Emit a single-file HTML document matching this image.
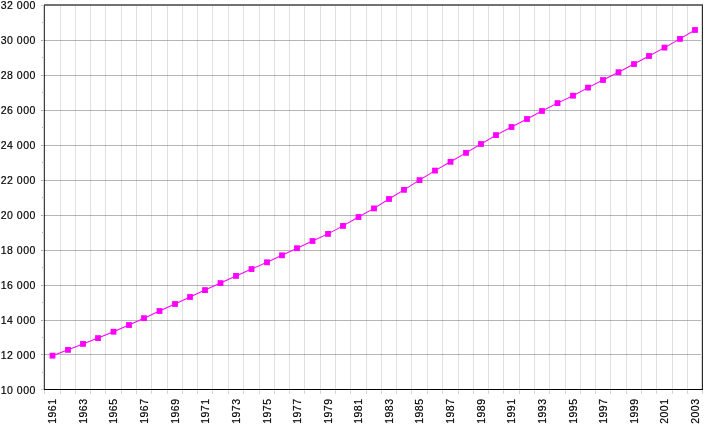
<!DOCTYPE html><html><head><meta charset="utf-8"><style>html,body{margin:0;padding:0;background:#fff;width:725px;height:426px;overflow:hidden}</style></head><body><svg width="725" height="426" viewBox="0 0 725 426" style="display:block;will-change:transform"><rect width="725" height="426" fill="#fff"/><g shape-rendering="crispEdges"><path fill="#e0e0e0" d="M60 6h1v383h-1zM75 6h1v383h-1zM90 6h1v383h-1zM105 6h1v383h-1zM121 6h1v383h-1zM136 6h1v383h-1zM151 6h1v383h-1zM167 6h1v383h-1zM182 6h1v383h-1zM197 6h1v383h-1zM212 6h1v383h-1zM228 6h1v383h-1zM243 6h1v383h-1zM259 6h1v383h-1zM274 6h1v383h-1zM289 6h1v383h-1zM304 6h1v383h-1zM320 6h1v383h-1zM335 6h1v383h-1zM350 6h1v383h-1zM366 6h1v383h-1zM381 6h1v383h-1zM396 6h1v383h-1zM411 6h1v383h-1zM427 6h1v383h-1zM442 6h1v383h-1zM458 6h1v383h-1zM473 6h1v383h-1zM488 6h1v383h-1zM503 6h1v383h-1zM519 6h1v383h-1zM534 6h1v383h-1zM549 6h1v383h-1zM565 6h1v383h-1zM580 6h1v383h-1zM595 6h1v383h-1zM610 6h1v383h-1zM626 6h1v383h-1zM641 6h1v383h-1zM656 6h1v383h-1zM672 6h1v383h-1zM687 6h1v383h-1z"/><path fill="#b6b6b6" d="M45 354h657v1h-657zM45 320h657v1h-657zM45 285h657v1h-657zM45 250h657v1h-657zM45 215h657v1h-657zM45 180h657v1h-657zM45 145h657v1h-657zM45 110h657v1h-657zM45 75h657v1h-657zM45 40h657v1h-657z"/><path fill="#a8a8a8" d="M60 354h1v1h-1zM75 354h1v1h-1zM90 354h1v1h-1zM105 354h1v1h-1zM121 354h1v1h-1zM136 354h1v1h-1zM151 354h1v1h-1zM167 354h1v1h-1zM182 354h1v1h-1zM197 354h1v1h-1zM212 354h1v1h-1zM228 354h1v1h-1zM243 354h1v1h-1zM259 354h1v1h-1zM274 354h1v1h-1zM289 354h1v1h-1zM304 354h1v1h-1zM320 354h1v1h-1zM335 354h1v1h-1zM350 354h1v1h-1zM366 354h1v1h-1zM381 354h1v1h-1zM396 354h1v1h-1zM411 354h1v1h-1zM427 354h1v1h-1zM442 354h1v1h-1zM458 354h1v1h-1zM473 354h1v1h-1zM488 354h1v1h-1zM503 354h1v1h-1zM519 354h1v1h-1zM534 354h1v1h-1zM549 354h1v1h-1zM565 354h1v1h-1zM580 354h1v1h-1zM595 354h1v1h-1zM610 354h1v1h-1zM626 354h1v1h-1zM641 354h1v1h-1zM656 354h1v1h-1zM672 354h1v1h-1zM687 354h1v1h-1zM60 320h1v1h-1zM75 320h1v1h-1zM90 320h1v1h-1zM105 320h1v1h-1zM121 320h1v1h-1zM136 320h1v1h-1zM151 320h1v1h-1zM167 320h1v1h-1zM182 320h1v1h-1zM197 320h1v1h-1zM212 320h1v1h-1zM228 320h1v1h-1zM243 320h1v1h-1zM259 320h1v1h-1zM274 320h1v1h-1zM289 320h1v1h-1zM304 320h1v1h-1zM320 320h1v1h-1zM335 320h1v1h-1zM350 320h1v1h-1zM366 320h1v1h-1zM381 320h1v1h-1zM396 320h1v1h-1zM411 320h1v1h-1zM427 320h1v1h-1zM442 320h1v1h-1zM458 320h1v1h-1zM473 320h1v1h-1zM488 320h1v1h-1zM503 320h1v1h-1zM519 320h1v1h-1zM534 320h1v1h-1zM549 320h1v1h-1zM565 320h1v1h-1zM580 320h1v1h-1zM595 320h1v1h-1zM610 320h1v1h-1zM626 320h1v1h-1zM641 320h1v1h-1zM656 320h1v1h-1zM672 320h1v1h-1zM687 320h1v1h-1zM60 285h1v1h-1zM75 285h1v1h-1zM90 285h1v1h-1zM105 285h1v1h-1zM121 285h1v1h-1zM136 285h1v1h-1zM151 285h1v1h-1zM167 285h1v1h-1zM182 285h1v1h-1zM197 285h1v1h-1zM212 285h1v1h-1zM228 285h1v1h-1zM243 285h1v1h-1zM259 285h1v1h-1zM274 285h1v1h-1zM289 285h1v1h-1zM304 285h1v1h-1zM320 285h1v1h-1zM335 285h1v1h-1zM350 285h1v1h-1zM366 285h1v1h-1zM381 285h1v1h-1zM396 285h1v1h-1zM411 285h1v1h-1zM427 285h1v1h-1zM442 285h1v1h-1zM458 285h1v1h-1zM473 285h1v1h-1zM488 285h1v1h-1zM503 285h1v1h-1zM519 285h1v1h-1zM534 285h1v1h-1zM549 285h1v1h-1zM565 285h1v1h-1zM580 285h1v1h-1zM595 285h1v1h-1zM610 285h1v1h-1zM626 285h1v1h-1zM641 285h1v1h-1zM656 285h1v1h-1zM672 285h1v1h-1zM687 285h1v1h-1zM60 250h1v1h-1zM75 250h1v1h-1zM90 250h1v1h-1zM105 250h1v1h-1zM121 250h1v1h-1zM136 250h1v1h-1zM151 250h1v1h-1zM167 250h1v1h-1zM182 250h1v1h-1zM197 250h1v1h-1zM212 250h1v1h-1zM228 250h1v1h-1zM243 250h1v1h-1zM259 250h1v1h-1zM274 250h1v1h-1zM289 250h1v1h-1zM304 250h1v1h-1zM320 250h1v1h-1zM335 250h1v1h-1zM350 250h1v1h-1zM366 250h1v1h-1zM381 250h1v1h-1zM396 250h1v1h-1zM411 250h1v1h-1zM427 250h1v1h-1zM442 250h1v1h-1zM458 250h1v1h-1zM473 250h1v1h-1zM488 250h1v1h-1zM503 250h1v1h-1zM519 250h1v1h-1zM534 250h1v1h-1zM549 250h1v1h-1zM565 250h1v1h-1zM580 250h1v1h-1zM595 250h1v1h-1zM610 250h1v1h-1zM626 250h1v1h-1zM641 250h1v1h-1zM656 250h1v1h-1zM672 250h1v1h-1zM687 250h1v1h-1zM60 215h1v1h-1zM75 215h1v1h-1zM90 215h1v1h-1zM105 215h1v1h-1zM121 215h1v1h-1zM136 215h1v1h-1zM151 215h1v1h-1zM167 215h1v1h-1zM182 215h1v1h-1zM197 215h1v1h-1zM212 215h1v1h-1zM228 215h1v1h-1zM243 215h1v1h-1zM259 215h1v1h-1zM274 215h1v1h-1zM289 215h1v1h-1zM304 215h1v1h-1zM320 215h1v1h-1zM335 215h1v1h-1zM350 215h1v1h-1zM366 215h1v1h-1zM381 215h1v1h-1zM396 215h1v1h-1zM411 215h1v1h-1zM427 215h1v1h-1zM442 215h1v1h-1zM458 215h1v1h-1zM473 215h1v1h-1zM488 215h1v1h-1zM503 215h1v1h-1zM519 215h1v1h-1zM534 215h1v1h-1zM549 215h1v1h-1zM565 215h1v1h-1zM580 215h1v1h-1zM595 215h1v1h-1zM610 215h1v1h-1zM626 215h1v1h-1zM641 215h1v1h-1zM656 215h1v1h-1zM672 215h1v1h-1zM687 215h1v1h-1zM60 180h1v1h-1zM75 180h1v1h-1zM90 180h1v1h-1zM105 180h1v1h-1zM121 180h1v1h-1zM136 180h1v1h-1zM151 180h1v1h-1zM167 180h1v1h-1zM182 180h1v1h-1zM197 180h1v1h-1zM212 180h1v1h-1zM228 180h1v1h-1zM243 180h1v1h-1zM259 180h1v1h-1zM274 180h1v1h-1zM289 180h1v1h-1zM304 180h1v1h-1zM320 180h1v1h-1zM335 180h1v1h-1zM350 180h1v1h-1zM366 180h1v1h-1zM381 180h1v1h-1zM396 180h1v1h-1zM411 180h1v1h-1zM427 180h1v1h-1zM442 180h1v1h-1zM458 180h1v1h-1zM473 180h1v1h-1zM488 180h1v1h-1zM503 180h1v1h-1zM519 180h1v1h-1zM534 180h1v1h-1zM549 180h1v1h-1zM565 180h1v1h-1zM580 180h1v1h-1zM595 180h1v1h-1zM610 180h1v1h-1zM626 180h1v1h-1zM641 180h1v1h-1zM656 180h1v1h-1zM672 180h1v1h-1zM687 180h1v1h-1zM60 145h1v1h-1zM75 145h1v1h-1zM90 145h1v1h-1zM105 145h1v1h-1zM121 145h1v1h-1zM136 145h1v1h-1zM151 145h1v1h-1zM167 145h1v1h-1zM182 145h1v1h-1zM197 145h1v1h-1zM212 145h1v1h-1zM228 145h1v1h-1zM243 145h1v1h-1zM259 145h1v1h-1zM274 145h1v1h-1zM289 145h1v1h-1zM304 145h1v1h-1zM320 145h1v1h-1zM335 145h1v1h-1zM350 145h1v1h-1zM366 145h1v1h-1zM381 145h1v1h-1zM396 145h1v1h-1zM411 145h1v1h-1zM427 145h1v1h-1zM442 145h1v1h-1zM458 145h1v1h-1zM473 145h1v1h-1zM488 145h1v1h-1zM503 145h1v1h-1zM519 145h1v1h-1zM534 145h1v1h-1zM549 145h1v1h-1zM565 145h1v1h-1zM580 145h1v1h-1zM595 145h1v1h-1zM610 145h1v1h-1zM626 145h1v1h-1zM641 145h1v1h-1zM656 145h1v1h-1zM672 145h1v1h-1zM687 145h1v1h-1zM60 110h1v1h-1zM75 110h1v1h-1zM90 110h1v1h-1zM105 110h1v1h-1zM121 110h1v1h-1zM136 110h1v1h-1zM151 110h1v1h-1zM167 110h1v1h-1zM182 110h1v1h-1zM197 110h1v1h-1zM212 110h1v1h-1zM228 110h1v1h-1zM243 110h1v1h-1zM259 110h1v1h-1zM274 110h1v1h-1zM289 110h1v1h-1zM304 110h1v1h-1zM320 110h1v1h-1zM335 110h1v1h-1zM350 110h1v1h-1zM366 110h1v1h-1zM381 110h1v1h-1zM396 110h1v1h-1zM411 110h1v1h-1zM427 110h1v1h-1zM442 110h1v1h-1zM458 110h1v1h-1zM473 110h1v1h-1zM488 110h1v1h-1zM503 110h1v1h-1zM519 110h1v1h-1zM534 110h1v1h-1zM549 110h1v1h-1zM565 110h1v1h-1zM580 110h1v1h-1zM595 110h1v1h-1zM610 110h1v1h-1zM626 110h1v1h-1zM641 110h1v1h-1zM656 110h1v1h-1zM672 110h1v1h-1zM687 110h1v1h-1zM60 75h1v1h-1zM75 75h1v1h-1zM90 75h1v1h-1zM105 75h1v1h-1zM121 75h1v1h-1zM136 75h1v1h-1zM151 75h1v1h-1zM167 75h1v1h-1zM182 75h1v1h-1zM197 75h1v1h-1zM212 75h1v1h-1zM228 75h1v1h-1zM243 75h1v1h-1zM259 75h1v1h-1zM274 75h1v1h-1zM289 75h1v1h-1zM304 75h1v1h-1zM320 75h1v1h-1zM335 75h1v1h-1zM350 75h1v1h-1zM366 75h1v1h-1zM381 75h1v1h-1zM396 75h1v1h-1zM411 75h1v1h-1zM427 75h1v1h-1zM442 75h1v1h-1zM458 75h1v1h-1zM473 75h1v1h-1zM488 75h1v1h-1zM503 75h1v1h-1zM519 75h1v1h-1zM534 75h1v1h-1zM549 75h1v1h-1zM565 75h1v1h-1zM580 75h1v1h-1zM595 75h1v1h-1zM610 75h1v1h-1zM626 75h1v1h-1zM641 75h1v1h-1zM656 75h1v1h-1zM672 75h1v1h-1zM687 75h1v1h-1zM60 40h1v1h-1zM75 40h1v1h-1zM90 40h1v1h-1zM105 40h1v1h-1zM121 40h1v1h-1zM136 40h1v1h-1zM151 40h1v1h-1zM167 40h1v1h-1zM182 40h1v1h-1zM197 40h1v1h-1zM212 40h1v1h-1zM228 40h1v1h-1zM243 40h1v1h-1zM259 40h1v1h-1zM274 40h1v1h-1zM289 40h1v1h-1zM304 40h1v1h-1zM320 40h1v1h-1zM335 40h1v1h-1zM350 40h1v1h-1zM366 40h1v1h-1zM381 40h1v1h-1zM396 40h1v1h-1zM411 40h1v1h-1zM427 40h1v1h-1zM442 40h1v1h-1zM458 40h1v1h-1zM473 40h1v1h-1zM488 40h1v1h-1zM503 40h1v1h-1zM519 40h1v1h-1zM534 40h1v1h-1zM549 40h1v1h-1zM565 40h1v1h-1zM580 40h1v1h-1zM595 40h1v1h-1zM610 40h1v1h-1zM626 40h1v1h-1zM641 40h1v1h-1zM656 40h1v1h-1zM672 40h1v1h-1zM687 40h1v1h-1z"/><rect x="41" y="389" width="3" height="1" fill="#cccccc"/><rect x="41" y="354" width="3" height="1" fill="#a8a8a8"/><rect x="41" y="320" width="3" height="1" fill="#a8a8a8"/><rect x="41" y="285" width="3" height="1" fill="#a8a8a8"/><rect x="41" y="250" width="3" height="1" fill="#a8a8a8"/><rect x="41" y="215" width="3" height="1" fill="#a8a8a8"/><rect x="41" y="180" width="3" height="1" fill="#a8a8a8"/><rect x="41" y="145" width="3" height="1" fill="#a8a8a8"/><rect x="41" y="110" width="3" height="1" fill="#a8a8a8"/><rect x="41" y="75" width="3" height="1" fill="#a8a8a8"/><rect x="41" y="40" width="3" height="1" fill="#a8a8a8"/><rect x="41" y="5" width="3" height="1" fill="#cccccc"/><rect x="42" y="22" width="2" height="1" fill="#b8b8b8"/><rect x="42" y="57" width="2" height="1" fill="#b8b8b8"/><rect x="42" y="92" width="2" height="1" fill="#b8b8b8"/><rect x="42" y="127" width="2" height="1" fill="#b8b8b8"/><rect x="42" y="162" width="2" height="1" fill="#b8b8b8"/><rect x="42" y="197" width="2" height="1" fill="#b8b8b8"/><rect x="42" y="232" width="2" height="1" fill="#b8b8b8"/><rect x="42" y="267" width="2" height="1" fill="#b8b8b8"/><rect x="42" y="302" width="2" height="1" fill="#b8b8b8"/><rect x="42" y="337" width="2" height="1" fill="#b8b8b8"/><rect x="42" y="372" width="2" height="1" fill="#b8b8b8"/><rect x="44" y="390" width="1" height="4" fill="#d4d4d4"/><rect x="60" y="390" width="1" height="4" fill="#d4d4d4"/><rect x="75" y="390" width="1" height="4" fill="#d4d4d4"/><rect x="90" y="390" width="1" height="4" fill="#d4d4d4"/><rect x="105" y="390" width="1" height="4" fill="#d4d4d4"/><rect x="121" y="390" width="1" height="4" fill="#d4d4d4"/><rect x="136" y="390" width="1" height="4" fill="#d4d4d4"/><rect x="151" y="390" width="1" height="4" fill="#d4d4d4"/><rect x="167" y="390" width="1" height="4" fill="#d4d4d4"/><rect x="182" y="390" width="1" height="4" fill="#d4d4d4"/><rect x="197" y="390" width="1" height="4" fill="#d4d4d4"/><rect x="212" y="390" width="1" height="4" fill="#d4d4d4"/><rect x="228" y="390" width="1" height="4" fill="#d4d4d4"/><rect x="243" y="390" width="1" height="4" fill="#d4d4d4"/><rect x="259" y="390" width="1" height="4" fill="#d4d4d4"/><rect x="274" y="390" width="1" height="4" fill="#d4d4d4"/><rect x="289" y="390" width="1" height="4" fill="#d4d4d4"/><rect x="304" y="390" width="1" height="4" fill="#d4d4d4"/><rect x="320" y="390" width="1" height="4" fill="#d4d4d4"/><rect x="335" y="390" width="1" height="4" fill="#d4d4d4"/><rect x="350" y="390" width="1" height="4" fill="#d4d4d4"/><rect x="366" y="390" width="1" height="4" fill="#d4d4d4"/><rect x="381" y="390" width="1" height="4" fill="#d4d4d4"/><rect x="396" y="390" width="1" height="4" fill="#d4d4d4"/><rect x="411" y="390" width="1" height="4" fill="#d4d4d4"/><rect x="427" y="390" width="1" height="4" fill="#d4d4d4"/><rect x="442" y="390" width="1" height="4" fill="#d4d4d4"/><rect x="458" y="390" width="1" height="4" fill="#d4d4d4"/><rect x="473" y="390" width="1" height="4" fill="#d4d4d4"/><rect x="488" y="390" width="1" height="4" fill="#d4d4d4"/><rect x="503" y="390" width="1" height="4" fill="#d4d4d4"/><rect x="519" y="390" width="1" height="4" fill="#d4d4d4"/><rect x="534" y="390" width="1" height="4" fill="#d4d4d4"/><rect x="549" y="390" width="1" height="4" fill="#d4d4d4"/><rect x="565" y="390" width="1" height="4" fill="#d4d4d4"/><rect x="580" y="390" width="1" height="4" fill="#d4d4d4"/><rect x="595" y="390" width="1" height="4" fill="#d4d4d4"/><rect x="610" y="390" width="1" height="4" fill="#d4d4d4"/><rect x="626" y="390" width="1" height="4" fill="#d4d4d4"/><rect x="641" y="390" width="1" height="4" fill="#d4d4d4"/><rect x="656" y="390" width="1" height="4" fill="#d4d4d4"/><rect x="672" y="390" width="1" height="4" fill="#d4d4d4"/><rect x="687" y="390" width="1" height="4" fill="#d4d4d4"/><rect x="702" y="390" width="1" height="4" fill="#d4d4d4"/><rect x="44" y="4" width="659" height="2" fill="#727272"/><rect x="43" y="5" width="1" height="385" fill="#d0d0d0"/><rect x="44" y="5" width="1" height="385" fill="#404040"/><rect x="701" y="6" width="1" height="383" fill="#d8d8d8"/><rect x="702" y="5" width="1" height="385" fill="#2a2a2a"/><rect x="44" y="389" width="659" height="1" fill="#000"/><rect x="44" y="354" width="1" height="1" fill="#1a1a1a"/><rect x="44" y="320" width="1" height="1" fill="#1a1a1a"/><rect x="44" y="285" width="1" height="1" fill="#1a1a1a"/><rect x="44" y="250" width="1" height="1" fill="#1a1a1a"/><rect x="44" y="215" width="1" height="1" fill="#1a1a1a"/><rect x="44" y="180" width="1" height="1" fill="#1a1a1a"/><rect x="44" y="145" width="1" height="1" fill="#1a1a1a"/><rect x="44" y="110" width="1" height="1" fill="#1a1a1a"/><rect x="44" y="75" width="1" height="1" fill="#1a1a1a"/><rect x="44" y="40" width="1" height="1" fill="#1a1a1a"/></g><polyline points="52.50,355.65 68.00,349.85 83.00,343.90 98.00,338.10 113.50,331.70 129.00,325.00 144.00,318.15 159.50,311.00 175.00,304.00 190.00,297.00 205.00,290.10 220.50,283.10 236.00,275.90 251.50,269.05 267.00,262.30 282.00,255.30 297.00,248.20 312.50,241.00 328.00,233.90 343.00,225.90 358.50,217.00 374.00,208.40 389.00,199.00 404.00,189.85 419.50,180.10 435.00,170.60 450.50,161.80 466.00,152.85 481.00,144.00 496.00,135.10 511.50,127.00 527.00,119.00 542.00,111.00 557.50,103.10 573.00,95.70 588.00,87.60 603.00,80.00 618.50,72.20 634.00,64.05 649.00,56.00 664.50,47.60 680.00,38.90 695.00,30.00" fill="none" stroke="#ff00ff" stroke-width="1.05"/><rect x="49.60" y="352.75" width="5.8" height="5.8" fill="#ff00ff"/><rect x="65.10" y="346.95" width="5.8" height="5.8" fill="#ff00ff"/><rect x="80.10" y="341.00" width="5.8" height="5.8" fill="#ff00ff"/><rect x="95.10" y="335.20" width="5.8" height="5.8" fill="#ff00ff"/><rect x="110.60" y="328.80" width="5.8" height="5.8" fill="#ff00ff"/><rect x="126.10" y="322.10" width="5.8" height="5.8" fill="#ff00ff"/><rect x="141.10" y="315.25" width="5.8" height="5.8" fill="#ff00ff"/><rect x="156.60" y="308.10" width="5.8" height="5.8" fill="#ff00ff"/><rect x="172.10" y="301.10" width="5.8" height="5.8" fill="#ff00ff"/><rect x="187.10" y="294.10" width="5.8" height="5.8" fill="#ff00ff"/><rect x="202.10" y="287.20" width="5.8" height="5.8" fill="#ff00ff"/><rect x="217.60" y="280.20" width="5.8" height="5.8" fill="#ff00ff"/><rect x="233.10" y="273.00" width="5.8" height="5.8" fill="#ff00ff"/><rect x="248.60" y="266.15" width="5.8" height="5.8" fill="#ff00ff"/><rect x="264.10" y="259.40" width="5.8" height="5.8" fill="#ff00ff"/><rect x="279.10" y="252.40" width="5.8" height="5.8" fill="#ff00ff"/><rect x="294.10" y="245.30" width="5.8" height="5.8" fill="#ff00ff"/><rect x="309.60" y="238.10" width="5.8" height="5.8" fill="#ff00ff"/><rect x="325.10" y="231.00" width="5.8" height="5.8" fill="#ff00ff"/><rect x="340.10" y="223.00" width="5.8" height="5.8" fill="#ff00ff"/><rect x="355.60" y="214.10" width="5.8" height="5.8" fill="#ff00ff"/><rect x="371.10" y="205.50" width="5.8" height="5.8" fill="#ff00ff"/><rect x="386.10" y="196.10" width="5.8" height="5.8" fill="#ff00ff"/><rect x="401.10" y="186.95" width="5.8" height="5.8" fill="#ff00ff"/><rect x="416.60" y="177.20" width="5.8" height="5.8" fill="#ff00ff"/><rect x="432.10" y="167.70" width="5.8" height="5.8" fill="#ff00ff"/><rect x="447.60" y="158.90" width="5.8" height="5.8" fill="#ff00ff"/><rect x="463.10" y="149.95" width="5.8" height="5.8" fill="#ff00ff"/><rect x="478.10" y="141.10" width="5.8" height="5.8" fill="#ff00ff"/><rect x="493.10" y="132.20" width="5.8" height="5.8" fill="#ff00ff"/><rect x="508.60" y="124.10" width="5.8" height="5.8" fill="#ff00ff"/><rect x="524.10" y="116.10" width="5.8" height="5.8" fill="#ff00ff"/><rect x="539.10" y="108.10" width="5.8" height="5.8" fill="#ff00ff"/><rect x="554.60" y="100.20" width="5.8" height="5.8" fill="#ff00ff"/><rect x="570.10" y="92.80" width="5.8" height="5.8" fill="#ff00ff"/><rect x="585.10" y="84.70" width="5.8" height="5.8" fill="#ff00ff"/><rect x="600.10" y="77.10" width="5.8" height="5.8" fill="#ff00ff"/><rect x="615.60" y="69.30" width="5.8" height="5.8" fill="#ff00ff"/><rect x="631.10" y="61.15" width="5.8" height="5.8" fill="#ff00ff"/><rect x="646.10" y="53.10" width="5.8" height="5.8" fill="#ff00ff"/><rect x="661.60" y="44.70" width="5.8" height="5.8" fill="#ff00ff"/><rect x="677.10" y="36.00" width="5.8" height="5.8" fill="#ff00ff"/><rect x="692.10" y="27.10" width="5.8" height="5.8" fill="#ff00ff"/><g style="font-family:'Liberation Sans',sans-serif;font-size:10.5px;letter-spacing:0.5px" fill="#000" stroke="#000" stroke-width="0.18"><text x="35.9" y="8.90" text-anchor="end">32 000</text><text x="35.9" y="43.88" text-anchor="end">30 000</text><text x="35.9" y="78.86" text-anchor="end">28 000</text><text x="35.9" y="113.84" text-anchor="end">26 000</text><text x="35.9" y="148.82" text-anchor="end">24 000</text><text x="35.9" y="183.80" text-anchor="end">22 000</text><text x="35.9" y="218.78" text-anchor="end">20 000</text><text x="35.9" y="253.76" text-anchor="end">18 000</text><text x="35.9" y="288.74" text-anchor="end">16 000</text><text x="35.9" y="323.72" text-anchor="end">14 000</text><text x="35.9" y="358.70" text-anchor="end">12 000</text><text x="35.9" y="393.68" text-anchor="end">10 000</text><text transform="translate(56.20,398.6) rotate(-90)" text-anchor="end" letter-spacing="0.42">1961</text><text transform="translate(86.70,398.6) rotate(-90)" text-anchor="end" letter-spacing="0.42">1963</text><text transform="translate(117.20,398.6) rotate(-90)" text-anchor="end" letter-spacing="0.42">1965</text><text transform="translate(147.70,398.6) rotate(-90)" text-anchor="end" letter-spacing="0.42">1967</text><text transform="translate(178.70,398.6) rotate(-90)" text-anchor="end" letter-spacing="0.42">1969</text><text transform="translate(208.70,398.6) rotate(-90)" text-anchor="end" letter-spacing="0.42">1971</text><text transform="translate(239.70,398.6) rotate(-90)" text-anchor="end" letter-spacing="0.42">1973</text><text transform="translate(270.70,398.6) rotate(-90)" text-anchor="end" letter-spacing="0.42">1975</text><text transform="translate(300.70,398.6) rotate(-90)" text-anchor="end" letter-spacing="0.42">1977</text><text transform="translate(331.70,398.6) rotate(-90)" text-anchor="end" letter-spacing="0.42">1979</text><text transform="translate(362.20,398.6) rotate(-90)" text-anchor="end" letter-spacing="0.42">1981</text><text transform="translate(392.70,398.6) rotate(-90)" text-anchor="end" letter-spacing="0.42">1983</text><text transform="translate(423.20,398.6) rotate(-90)" text-anchor="end" letter-spacing="0.42">1985</text><text transform="translate(454.20,398.6) rotate(-90)" text-anchor="end" letter-spacing="0.42">1987</text><text transform="translate(484.70,398.6) rotate(-90)" text-anchor="end" letter-spacing="0.42">1989</text><text transform="translate(515.20,398.6) rotate(-90)" text-anchor="end" letter-spacing="0.42">1991</text><text transform="translate(545.70,398.6) rotate(-90)" text-anchor="end" letter-spacing="0.42">1993</text><text transform="translate(576.70,398.6) rotate(-90)" text-anchor="end" letter-spacing="0.42">1995</text><text transform="translate(606.70,398.6) rotate(-90)" text-anchor="end" letter-spacing="0.42">1997</text><text transform="translate(637.70,398.6) rotate(-90)" text-anchor="end" letter-spacing="0.42">1999</text><text transform="translate(668.20,398.6) rotate(-90)" text-anchor="end" letter-spacing="0.42">2001</text><text transform="translate(698.70,398.6) rotate(-90)" text-anchor="end" letter-spacing="0.42">2003</text></g></svg></body></html>
